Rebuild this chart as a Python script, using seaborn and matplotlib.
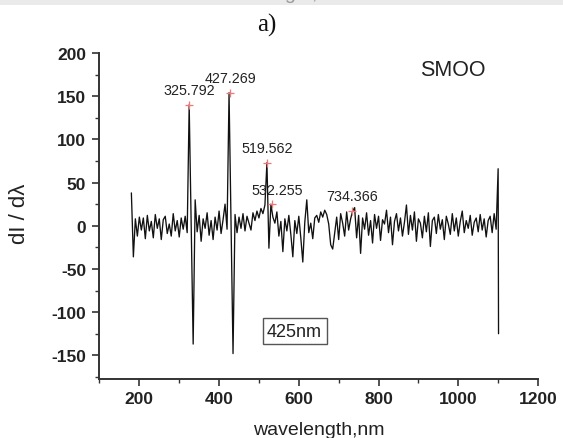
import matplotlib
matplotlib.use("Agg")
import matplotlib.pyplot as plt
import seaborn as sns
import pandas as pd
from matplotlib.ticker import MultipleLocator
from matplotlib.patches import Rectangle

# derivative spectrum, every 5 nm from 180 to 1100 nm
# (the last point is the downward half of the spike at 1100 nm)
wavelength = list(range(180, 1101, 5)) + [1101]
dI = [
    38, -36, 8, -12, 10, -5, 9, -15, 12, -6,        # 180-225
    5, -14, 13, -3, 8, -16, 7, 11, -9, 2,           # 230-275
    -12, 14, -6, 6, -13, 9, -4, 11, -8, 140,        # 280-325
    2, -137, 30, -7, 12, -18, 8, -3, 15, -11,       # 330-375
    6, -16, 10, -5, 17, -9, 7, 25, -4, 154,         # 380-425
    4, -148, 13, -8, 10, -3, 14, -6, 11, 3,         # 430-475
    -5, 15, 6, 17, 9, 20, 14, 24, 73, -26,          # 480-525
    25, 10, 3, 16, -12, 5, -30, 8, -6, 12,          # 530-575
    -10, -36, 6, -9, 11, -14, -42, 4, 30, -8,       # 580-625
    3, -15, 9, 12, 4, 16, 10, 18, 13, 2,            # 630-675
    -22, -27, -8, 10, -16, 14, 3, -12, 16, -5,      # 680-725
    8, 17, 21, -14, 12, -32, 9, -4, 15, -11,        # 730-775
    6, -20, 13, -3, 11, -17, 7, 2, 18, -8,          # 780-825
    10, -22, 5, 14, -6, 9, -12, 4, 24, -10,         # 830-875
    12, -5, 16, -18, 8, 3, -14, 11, -7, 15,         # 880-925
    -24, 6, 10, -9, 13, -4, 7, -16, 11, 2,          # 930-975
    -10, 14, -6, 9, -12, 5, 17, -8, 6, -3,          # 980-1025
    12, -11, 4, 9, -7, 13, -5, 8, -13, 6,           # 1030-1075
    11, -8, 14, -4, 66,                             # 1080-1100
    -125,
]

# marked peaks
peak_x = [325.792, 427.269, 519.562, 532.255, 734.366]
peak_y = [140, 154, 73, 25, 17]
peak_dx = [0, 0, 0, 4, 0]  # small horizontal nudge of the label, points

df = pd.DataFrame({"wavelength": wavelength, "dI": dI})

sns.set_style("ticks")
plt.rcParams["font.family"] = ["Liberation Sans", "DejaVu Sans"]
plt.rcParams["axes.unicode_minus"] = False

fig = plt.figure(figsize=(5.63, 4.39), dpi=100)
ax = fig.add_axes([0.1767, 0.1333, 0.7789, 0.7437])

sns.lineplot(data=df, x="wavelength", y="dI", sort=False, estimator=None,
             color="#111111", linewidth=0.95, ax=ax)
sns.scatterplot(x=peak_x, y=peak_y, marker="+", color="#ee7777", s=35,
                linewidth=0.9, ax=ax, zorder=5)

for px, py, dx in zip(peak_x, peak_y, peak_dx):
    ax.annotate(f"{px:.3f}", (px, py), xytext=(dx, 10.5),
                textcoords="offset points", ha="center", va="center",
                fontsize=10.3, color="#222222")

ax.text(0.806, 0.948, "SMOO", transform=ax.transAxes, ha="center",
        va="center", fontsize=15.5, color="#222222")
ax.text(0.445, 0.148, "425nm", transform=ax.transAxes, ha="center",
        va="center", fontsize=13, color="#222222",
        bbox=dict(boxstyle="square,pad=0.25", facecolor="white",
                  edgecolor="#555555", linewidth=1.0))

ax.set_xlim(100, 1200)
ax.set_ylim(-178, 200)
ax.xaxis.set_minor_locator(MultipleLocator(100))
ax.yaxis.set_minor_locator(MultipleLocator(25))
ax.set_xticks(range(200, 1201, 200))
ax.set_yticks(range(-150, 201, 50))

ax.tick_params(which="major", direction="out", length=5, width=1.2,
               color="#333333", labelsize=12.5, pad=3.5)
ax.tick_params(which="minor", direction="out", length=3, width=1.0,
               color="#333333")
ax.tick_params(axis="y", which="major", pad=4.5)
for lab in ax.get_xticklabels() + ax.get_yticklabels():
    lab.set_fontweight("bold")
    lab.set_color("#222222")

sns.despine(ax=ax)
for side in ["left", "bottom"]:
    ax.spines[side].set_linewidth(1.4)
    ax.spines[side].set_color("#333333")

ax.set_xlabel("wavelength,nm", fontsize=14, color="#222222")
ax.set_ylabel("dI / dλ", fontsize=16, color="#222222")
ax.xaxis.set_label_coords(0.5, -0.127)
ax.yaxis.set_label_coords(-0.158, 0.51)

# panel letter and the clipped strip of the figure above
fig.text(0.474, 0.941, "a)", family="Liberation Serif", fontsize=18,
         ha="center", va="center", color="#111111")
fig.patches.append(Rectangle((0, 0.987), 1, 0.013, transform=fig.transFigure,
                             facecolor="#eaeaea", edgecolor="none"))
fig.text(0.5, 1.012, "wavelength, nm", fontsize=14, ha="center", va="center",
         color="#999999")

fig.savefig("out.png", dpi=100)
